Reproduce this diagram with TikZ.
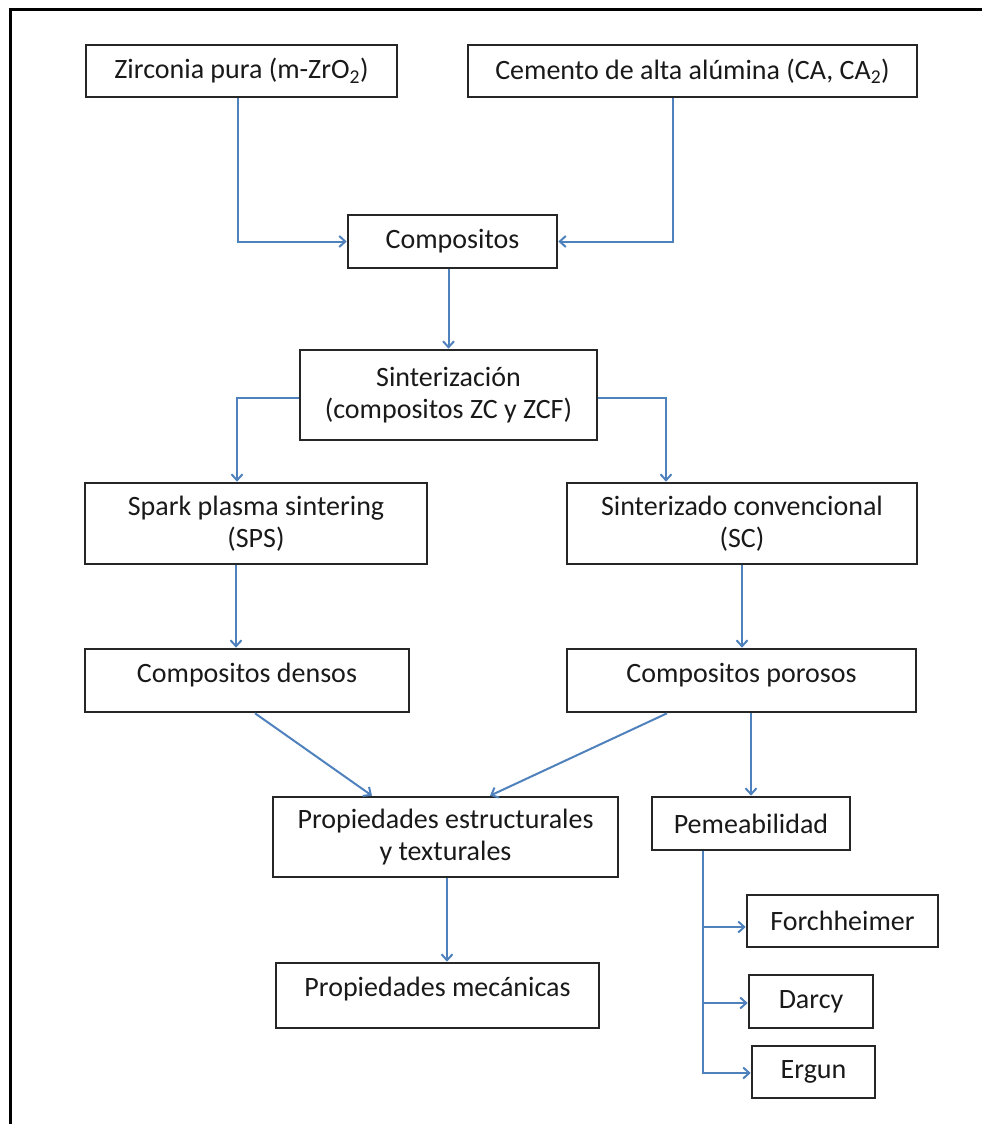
\documentclass[tikz,border=0pt]{standalone}
\usepackage{fontspec}
\setmainfont{Carlito}
\usetikzlibrary{arrows.meta}
\definecolor{flowblue}{HTML}{4F81BD}
\begin{document}
\begin{tikzpicture}[x=1pt,y=-1pt,
  box/.style={draw=black!85,line width=2.6pt,inner sep=0pt,align=center,
    font=\fontsize{28}{32}\selectfont,text=black!90},
  txt/.style={inner sep=0pt,align=center,font=\fontsize{28}{32}\selectfont,text=black!90},
  arr/.style={draw=flowblue,line width=2pt,-{Straight Barb[length=6pt,width=11pt,line width=2pt]}},
  frame/.style={draw=black,line width=3pt}]
\useasboundingbox (0,0) rectangle (982,1124);
% outer frame (left and top edges)
\draw[frame] (10,1124) -- (10,10) -- (982,10);

% boxes
\node[box,minimum width=311pt,minimum height=52pt] (zr) at (241.5,71) {Zirconia pura (m-ZrO\textsubscript{2})};
\node[box,minimum width=449pt,minimum height=52pt] (cem) at (692.5,71) {Cemento de alta alúmina (CA, CA\textsubscript{2})};
\node[box,minimum width=209pt,minimum height=53pt] (comp) at (452.5,241.5) {Compositos};
\node[box,minimum width=297pt,minimum height=90pt] (sint) at (448.5,395) {Sinterización\\(compositos ZC y ZCF)};
\node[box,minimum width=342pt,minimum height=81pt] (sps) at (256,523.5) {Spark plasma sintering\\(SPS)};
\node[box,minimum width=350pt,minimum height=81pt] (sc) at (742,523.5) {Sinterizado convencional\\(SC)};
\node[box,minimum width=324pt,minimum height=63pt] (densos) at (247,680.5) {};
\node[txt] (densos-t) at ([yshift=5pt]densos.center) {Compositos densos};
\node[box,minimum width=349pt,minimum height=63pt] (porosos) at (741.5,680.5) {};
\node[txt] (porosos-t) at ([yshift=5pt]porosos.center) {Compositos porosos};
\node[box,minimum width=345pt,minimum height=80pt] (estr) at (445.5,837) {Propiedades estructurales\\y texturales};
\node[box,minimum width=198pt,minimum height=53pt] (pem) at (751,823.5) {Pemeabilidad};
\node[box,minimum width=323pt,minimum height=65pt] (mec) at (437.5,995.5) {};
\node[txt] (mec-t) at ([yshift=6pt]mec.center) {Propiedades mecánicas};
\node[box,minimum width=191pt,minimum height=52pt] (forch) at (842.5,921) {Forchheimer};
\node[box,minimum width=124pt,minimum height=53pt] (darcy) at (811,1001.5) {Darcy};
\node[box,minimum width=123pt,minimum height=52pt] (ergun) at (813.5,1072) {Ergun};

% connectors
\draw[arr] ([xshift=-3.5pt]zr.south) |- (comp.west);
\draw[arr] ([xshift=-19.5pt]cem.south) |- (comp.east);
\draw[arr] (comp.south -| sint.north) -- (sint.north);
\draw[arr] ([yshift=-3pt]sint.west) -| ([xshift=-19pt]sps.north);
\draw[arr] ([yshift=-3pt]sint.east) -| ([xshift=-76pt]sc.north);
\draw[arr] ([xshift=-20pt]sps.south) -- ([xshift=-20pt]sps.south |- densos.north);
\draw[arr] ([xshift=0.5pt]sc.south -| porosos.north) -- ([xshift=0.5pt]porosos.north);
\draw[arr] ([xshift=8pt]densos.south) -- ([xshift=-73.5pt]estr.north);
\draw[arr] ([xshift=-74.5pt]porosos.south) -- ([xshift=44.5pt]estr.north);
\draw[arr] (porosos.south -| pem.north) -- (pem.north);
\draw[arr] ([xshift=1.5pt]estr.south) -- ([xshift=1.5pt]estr.south |- mec.north);
\draw[arr] ([xshift=-48pt]pem.south) |- ([yshift=-6pt]forch.west);
\draw[arr] ([xshift=-48pt]pem.south) |- ([yshift=-1.5pt]darcy.west);
\draw[arr] ([xshift=-48pt]pem.south) |- ([yshift=-1pt]ergun.west);
\end{tikzpicture}
\end{document}
